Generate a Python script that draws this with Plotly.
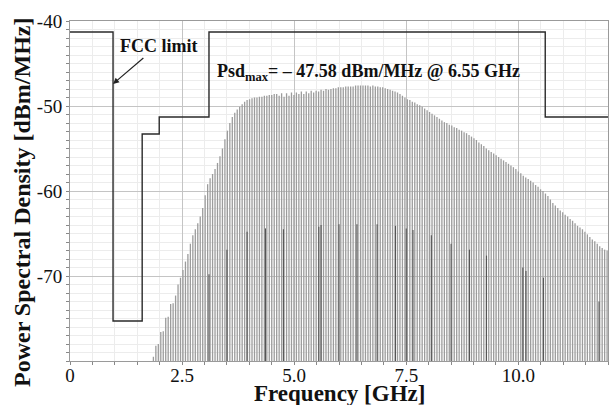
import plotly.graph_objects as go

# ---- Data ----
# UWB comb spectrum: first line frequency and line spacing (GHz)
comb_start_ghz = 1.86
comb_step_ghz = 0.055
comb_psd = [
    -79.5, -78.2, -78.0, -76.6, -76.5, -74.9, -74.8, -73.3, -73.2, -72.3,
    -71.0, -70.2, -69.3, -68.3, -67.4, -66.2, -65.2, -64.5, -63.8, -63.0,
    -62.0, -60.5, -59.2, -58.5, -58.0, -57.4, -56.7, -55.9, -55.0, -53.9,
    -52.9, -52.0, -51.3, -50.8, -50.4, -50.1, -49.8, -49.5, -49.3, -49.2,
    -49.1, -49.0, -49.0, -48.9, -48.9, -48.8, -48.8, -48.7, -48.7, -48.6,
    -48.6, -48.8, -48.5, -48.9, -48.5, -48.8, -48.4, -48.7, -48.4, -48.6,
    -48.3, -48.6, -48.3, -48.5, -48.2, -48.4, -48.2, -48.3, -48.1, -48.2,
    -48.0, -48.1, -48.0, -47.9, -47.9, -47.8, -47.8, -47.8, -47.7, -47.7,
    -47.7, -47.7, -47.6, -47.6, -47.6, -47.58, -47.6, -47.6, -47.7, -47.6,
    -47.7, -47.7, -47.8, -47.8, -47.9, -48.0, -48.1, -48.2, -48.3, -48.4,
    -48.6, -48.8, -49.0, -49.2, -49.3, -49.5, -49.6, -49.8, -49.9, -50.1,
    -50.3, -50.5, -50.7, -50.9, -51.1, -51.3, -51.5, -51.7, -51.9, -52.0,
    -52.2, -52.3, -52.5, -52.6, -52.8, -52.9, -53.1, -53.2, -53.4, -53.6,
    -53.8, -54.0, -54.3, -54.5, -54.7, -55.0, -55.2, -55.4, -55.6, -55.8,
    -56.0, -56.2, -56.4, -56.6, -56.8, -57.0, -57.2, -57.4, -57.7, -57.9,
    -58.2, -58.4, -58.6, -58.8, -59.0, -59.3, -59.5, -59.8, -60.0, -60.3,
    -60.6, -61.0, -61.4, -61.7, -62.0, -62.3, -62.5, -62.8, -63.0, -63.3,
    -63.5, -63.8, -64.1, -64.3, -64.5, -64.8, -65.1, -65.4, -65.7, -65.9,
    -66.2, -66.5, -66.7, -66.9, -67.0,
]

# darker low-level spectral lines
spur_freq = [3.10, 3.50, 3.95, 4.36, 4.76, 5.55, 5.60, 6.00, 6.40, 6.85, 7.26,
             7.50, 7.65, 8.06, 8.50, 8.91, 9.29, 10.10, 10.17, 10.56, 11.80]
spur_psd = [-69.8, -66.9, -64.8, -64.4, -64.5, -64.2, -64.0, -63.9, -63.9, -63.9, -64.1,
            -64.4, -64.6, -65.2, -66.2, -66.9, -67.6, -69.0, -69.4, -70.2, -73.0]

# FCC indoor mask (step function)
fcc_freq = [0, 0.96, 1.61, 1.99, 3.10, 10.60, 12.0]
fcc_limit = [-41.3, -75.3, -53.3, -51.3, -41.3, -51.3, -51.3]

x_tickvals = [0, 2.5, 5.0, 7.5, 10.0]
x_ticktext = ["0", "2.5", "5.0", "7.5", "10.0"]
y_tickvals = [-40, -50, -60, -70]
y_ticktext = ["-40", "-50", "-60", "-70"]

floor_db = -80
comb_freq = [round(comb_start_ghz + comb_step_ghz * i, 4) for i in range(len(comb_psd))]

# build stem segments
def stems(xs, ys):
    sx, sy = [], []
    for xv, yv in zip(xs, ys):
        sx += [xv, xv, None]
        sy += [floor_db, yv, None]
    return sx, sy

cx, cy = stems(comb_freq, comb_psd)
spx, spy = stems(spur_freq, spur_psd)

FONT = "Liberation Serif"

fig = go.Figure()
fig.add_trace(go.Scatter(x=cx, y=cy, mode="lines",
                         line=dict(color="#9c9c9c", width=1.3),
                         hoverinfo="skip", showlegend=False))
fig.add_trace(go.Scatter(x=spx, y=spy, mode="lines",
                         line=dict(color="#555555", width=1.1),
                         hoverinfo="skip", showlegend=False))
fig.add_trace(go.Scatter(x=fcc_freq, y=fcc_limit, mode="lines",
                         line=dict(color="#2a2a2a", width=1.4, shape="hv"),
                         hoverinfo="skip", showlegend=False))

fig.update_layout(
    width=610, height=405,
    margin=dict(l=70, r=2, t=21, b=44),
    paper_bgcolor="white", plot_bgcolor="white",
    font=dict(family=FONT, color="#111"),
    showlegend=False,
)
fig.update_xaxes(
    range=[0, 12], tickvals=x_tickvals, ticktext=x_ticktext, automargin=False,
    tickfont=dict(size=19, family=FONT, color="#111"),
    showgrid=True, gridcolor="#c4c4c4", gridwidth=1,
    minor=dict(dtick=0.5, showgrid=True, gridcolor="#ececec", ticks="outside",
               ticklen=3, tickcolor="#888"),
    ticks="outside", ticklen=3, tickcolor="#888", ticklabelstandoff=-6,
    showline=True, linecolor="#9a9a9a", linewidth=1, mirror=True,
    zeroline=False,
)
fig.update_yaxes(
    range=[-80, -40], tickvals=y_tickvals, ticktext=y_ticktext, automargin=False,
    tickfont=dict(size=19, family=FONT, color="#111"),
    showgrid=True, gridcolor="#c4c4c4", gridwidth=1,
    minor=dict(dtick=1, showgrid=True, gridcolor="#ececec", ticks="outside",
               ticklen=3, tickcolor="#888"),
    ticks="outside", ticklen=3, tickcolor="#888",
    showline=True, linecolor="#9a9a9a", linewidth=1, mirror=True,
    zeroline=False,
)

annotations = [
    dict(text="<b>Frequency [GHz]</b>", xref="paper", yref="paper",
         x=0.5, y=-0.096, xanchor="center", yanchor="middle", showarrow=False,
         font=dict(size=23, family=FONT, color="#111")),
    dict(text="<b>Power Spectral Density [dBm/MHz]</b>", xref="paper", yref="paper",
         x=-0.089, y=0.465, xanchor="center", yanchor="middle", textangle=-90,
         showarrow=False, font=dict(size=24, family=FONT, color="#111")),
    dict(text="<b>FCC limit</b>", x=1.98, y=-42.9, xref="x", yref="y",
         showarrow=False, font=dict(size=18, family=FONT, color="#111")),
    dict(text="", x=0.96, y=-47.4, ax=1.67, ay=-44.2, xref="x", yref="y",
         axref="x", ayref="y", showarrow=True, arrowhead=2, arrowsize=1,
         arrowwidth=1.2, arrowcolor="#222"),
    dict(text="<b>Psd<sub>max</sub>= – 47.58 dBm/MHz @ 6.55 GHz</b>",
         x=6.66, y=-46.0, xref="x", yref="y", showarrow=False,
         font=dict(size=18, family=FONT, color="#111")),
]
fig.update_layout(annotations=annotations)

fig.write_html(
    "out.html",
    config={"displayModeBar": False},
    post_script="document.body.style.margin='0';document.body.style.padding='0';",
)
